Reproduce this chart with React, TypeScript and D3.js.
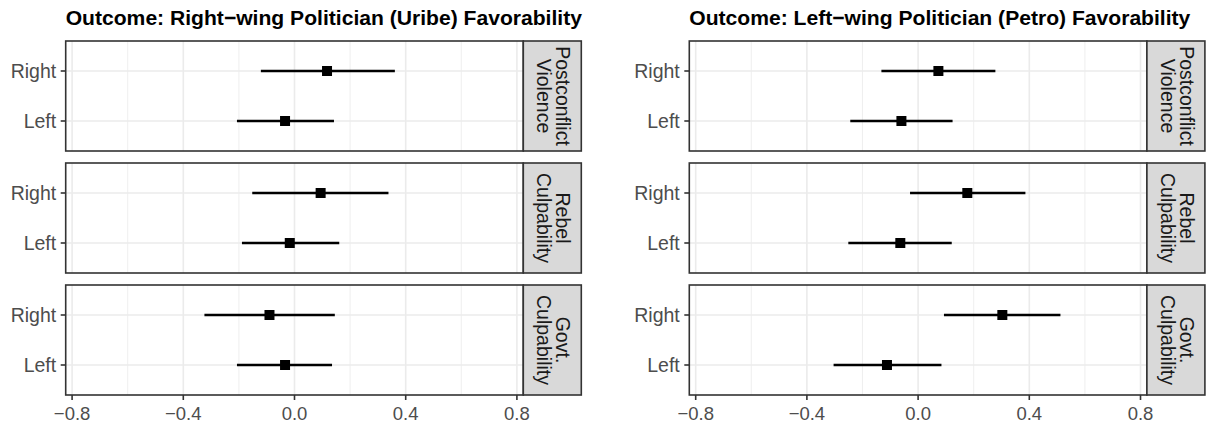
import React from "react";
import * as d3 from "d3";

// ---- data ----
const outcomeTitles = [
  "Outcome: Right\u2212wing Politician (Uribe) Favorability",
  "Outcome: Left\u2212wing Politician (Petro) Favorability",
];
const facetLabels = [
  ["Postconflict", "Violence"],
  ["Rebel", "Culpability"],
  ["Govt.", "Culpability"],
];
const yLevels = ["Right", "Left"];
const xTicks = [-0.8, -0.4, 0.0, 0.4, 0.8];
const xMinorTicks = [-0.6, -0.2, 0.2, 0.6];

// order per facet: [Right, Left]
const uribeEstimate = [[0.117, -0.034], [0.094, -0.017], [-0.09, -0.034]];
const uribeLower = [[-0.121, -0.207], [-0.152, -0.189], [-0.324, -0.207]];
const uribeUpper = [[0.361, 0.142], [0.338, 0.161], [0.145, 0.135]];

const petroEstimate = [[0.073, -0.06], [0.177, -0.064], [0.303, -0.112]];
const petroLower = [[-0.132, -0.244], [-0.029, -0.251], [0.093, -0.304]];
const petroUpper = [[0.278, 0.124], [0.386, 0.121], [0.512, 0.084]];

const outcomes = [
  { title: outcomeTitles[0], est: uribeEstimate, lo: uribeLower, hi: uribeUpper },
  { title: outcomeTitles[1], est: petroEstimate, lo: petroLower, hi: petroUpper },
];

// ---- layout ----
const W = 1206;
const H = 428;
const plotOffsets = [0, 623.6];
const panelLeft = 65.7;
const panelRight = 523.3;
const stripW = 58;
const panelTops = [41, 163, 285];
const panelH = 110;
const FONT = "'Liberation Sans', Arial, Helvetica, sans-serif";
const yFont = 19.5;
const xFont = 18.5;
const stripFont = 19.5;
const grid = "#ebebeb";
const border = "#333333";

function Plot({ o, dx }: { o: any; dx: number }) {
  const x = d3.scaleLinear().domain([-0.823, 0.823]).range([panelLeft + dx, panelRight + dx]);
  const bottom = panelTops[2] + panelH;
  return (
    <g>
      <text x={panelLeft + dx} y={25} fontFamily={FONT} fontWeight="bold" fontSize={21.1} fill="#000">
        {o.title}
      </text>
      {panelTops.map((top, fi) => {
        const y = d3.scalePoint().domain(yLevels).range([top, top + panelH]).padding(0.6);
        const l = panelLeft + dx;
        const r = panelRight + dx;
        return (
          <g key={fi}>
            <rect x={l} y={top} width={r - l} height={panelH} fill="#fff" />
            {xMinorTicks.map((t) => (
              <line key={"m" + t} x1={x(t)} x2={x(t)} y1={top} y2={top + panelH} stroke={grid} strokeWidth={0.8} />
            ))}
            {xTicks.map((t) => (
              <line key={"M" + t} x1={x(t)} x2={x(t)} y1={top} y2={top + panelH} stroke={grid} strokeWidth={1.6} />
            ))}
            {yLevels.map((lv) => (
              <line key={lv} x1={l} x2={r} y1={y(lv)} y2={y(lv)} stroke={grid} strokeWidth={1.6} />
            ))}
            {yLevels.map((lv, li) => (
              <g key={"d" + lv}>
                <line x1={x(o.lo[fi][li])} x2={x(o.hi[fi][li])} y1={y(lv)} y2={y(lv)} stroke="#000" strokeWidth={2.5} />
                <rect x={x(o.est[fi][li]) - 5} y={(y(lv) as number) - 5} width={10} height={10} fill="#000" />
              </g>
            ))}
            <rect x={l} y={top} width={r - l} height={panelH} fill="none" stroke={border} strokeWidth={1.6} />
            {/* y axis */}
            {yLevels.map((lv) => (
              <g key={"t" + lv}>
                <line x1={l - 5} x2={l} y1={y(lv)} y2={y(lv)} stroke={border} strokeWidth={1.6} />
                <text x={l - 9.5} y={y(lv)} dy="0.35em" textAnchor="end" fontFamily={FONT} fontSize={yFont} fill="#4d4d4d">
                  {lv}
                </text>
              </g>
            ))}
            {/* strip */}
            <rect x={r} y={top} width={stripW} height={panelH} fill="#d9d9d9" stroke={border} strokeWidth={1.6} />
            <g transform={`translate(${r + stripW / 2 + 1},${top + panelH / 2}) rotate(90)`}>
              {facetLabels[fi].map((s, k) => (
                <text key={k} x={0} y={k === 0 ? -9.5 : 9} dy="0.35em" textAnchor="middle" fontFamily={FONT} fontSize={stripFont} fill="#1a1a1a">
                  {s}
                </text>
              ))}
            </g>
          </g>
        );
      })}
      {xTicks.map((t) => (
        <g key={"xt" + t}>
          <line x1={x(t)} x2={x(t)} y1={bottom} y2={bottom + 5} stroke={border} strokeWidth={1.6} />
          <text x={x(t)} y={420} textAnchor="middle" fontFamily={FONT} fontSize={xFont} fill="#4d4d4d">
            {d3.format(".1f")(t).replace("-", "\u2212")}
          </text>
        </g>
      ))}
    </g>
  );
}

export default function App() {
  return (
    <svg width={W} height={H} style={{ position: "absolute", left: 0, top: 0, background: "#fff" }}>
      <rect width={W} height={H} fill="#fff" />
      {outcomes.map((o, i) => (
        <Plot key={i} o={o} dx={plotOffsets[i]} />
      ))}
    </svg>
  );
}
